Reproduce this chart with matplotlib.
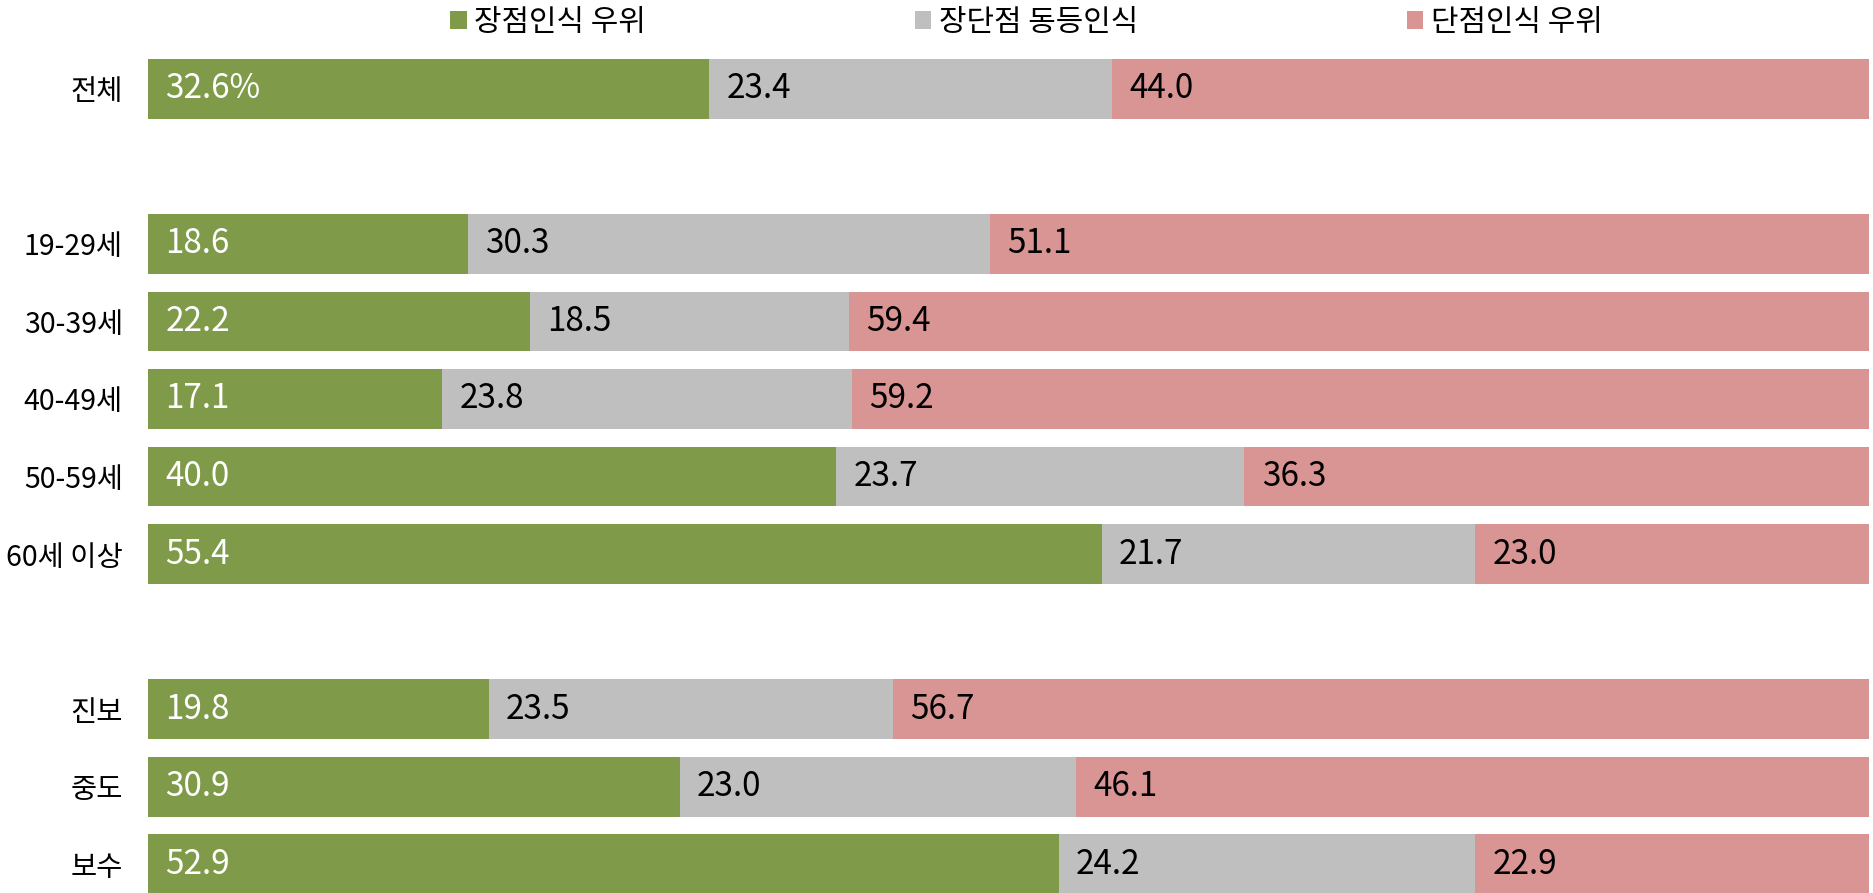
import matplotlib.pyplot as plt
from matplotlib.patches import Patch

plt.rcParams['font.family'] = ['Noto Sans CJK KR', 'DejaVu Sans']

categories = ['전체', '19-29세', '30-39세', '40-49세', '50-59세', '60세 이상', '진보', '중도', '보수']
# row slots, leaving an empty slot between the groups
slots = [0, 2, 3, 4, 5, 6, 8, 9, 10]

pros = [32.6, 18.6, 22.2, 17.1, 40.0, 55.4, 19.8, 30.9, 52.9]
equal = [23.4, 30.3, 18.5, 23.8, 23.7, 21.7, 23.5, 23.0, 24.2]
cons = [44.0, 51.1, 59.4, 59.2, 36.3, 23.0, 56.7, 46.1, 22.9]

series_names = ['장점인식 우위', '장단점 동등인식', '단점인식 우위']
colors = ['#7F9A48', '#BFBFBF', '#D99594']
text_colors = ['white', 'black', 'black']

fig = plt.figure(figsize=(18.73, 8.93), dpi=100)
ax = fig.add_axes([0.079, 0.0, 0.919, 0.934])

bar_h = 0.77
left = [0.0] * len(categories)
for vals, col, tcol in zip([pros, equal, cons], colors, text_colors):
    ax.barh(slots, vals, left=left, height=bar_h, color=col, edgecolor='none')
    for i, (y, v) in enumerate(zip(slots, vals)):
        label = f'{v:.1f}'
        if i == 0 and col == colors[0]:
            label += '%'
        ax.text(left[i] + 1.0, y, label, color=tcol, fontsize=24,
                va='center', ha='left')
    left = [l + v for l, v in zip(left, vals)]

ax.set_xlim(0, 100)
ax.set_ylim(10.37, -0.385)
ax.set_yticks(slots)
ax.set_yticklabels(categories, fontsize=20.5)
ax.tick_params(axis='y', length=0, pad=18)
ax.set_xticks([])
for s in ax.spines.values():
    s.set_visible(False)

handles = [Patch(facecolor=c, edgecolor='none') for c in colors]
fig.legend(handles, series_names, loc='center', bbox_to_anchor=(0.548, 0.975),
           ncol=3, frameon=False, fontsize=21.5, handlelength=0.55, handleheight=0.55,
           handletextpad=0.25, columnspacing=9.0)

fig.savefig('out.png', dpi=100)
